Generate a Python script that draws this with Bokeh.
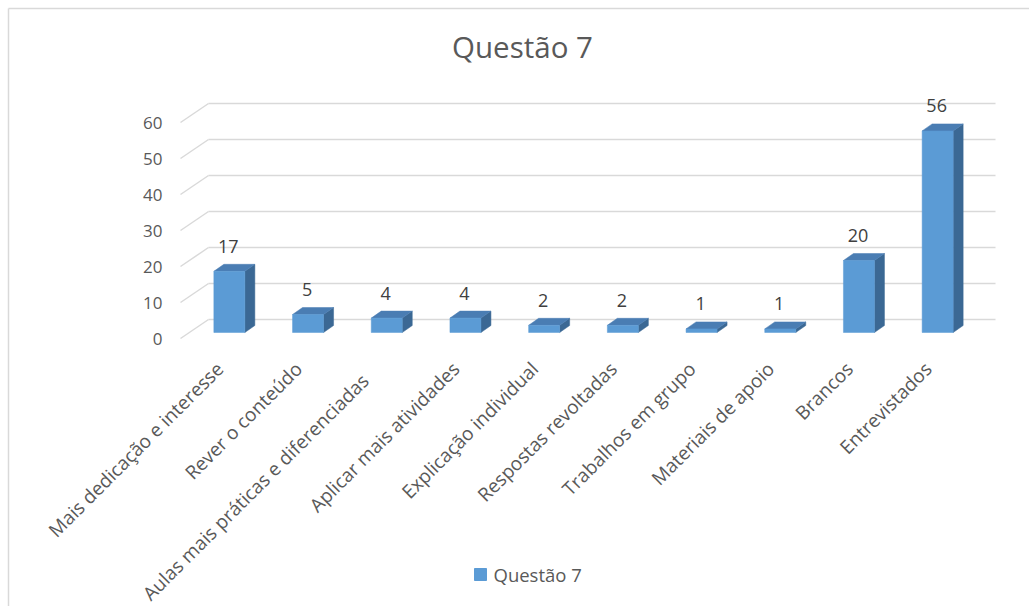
import math
from bokeh.plotting import figure
from bokeh.models import Range1d
from bokeh.embed import file_html
from bokeh.resources import INLINE
from bokeh.core.properties import value

# ---------------- data ----------------
chart_title = "Questão 7"
series_name = "Questão 7"
categories = [
    "Mais dedicação e interesse",
    "Rever o conteúdo",
    "Aulas mais práticas e diferenciadas",
    "Aplicar mais atividades",
    "Explicação individual",
    "Respostas revoltadas",
    "Trabalhos em grupo",
    "Materiais de apoio",
    "Brancos",
    "Entrevistados",
]
values = [17, 5, 4, 4, 2, 2, 1, 1, 20, 56]
y_ticks = [0, 10, 20, 30, 40, 50, 60]
y_tick_labels = ["0", "10", "20", "30", "40", "50", "60"]

# ---------------- layout (pixels) ----------------
W, H = 1029, 606
X0 = 180.0        # floor front-left corner, px
CAT_PX = 78.7     # px per category
Y0 = 338.0        # value 0 on the front plane, px
VAL_PX = 3.6      # px per value unit
FONT = "Open Sans"

def ux(px):
    return (px - X0) / CAT_PX

def vy(py):
    return (Y0 - py) / VAL_PX

def ddx(px):
    return px / CAT_PX

def ddy(px_up):
    return px_up / VAL_PX

WALL_DX, WALL_DY = ddx(28), ddy(19)      # depth of the back wall
BAR_DX, BAR_DY = ddx(9.5), ddy(6)        # bar front face offset into depth
SIDE_DX, SIDE_DY = ddx(10), ddy(7)       # bar depth
BAR_W = 31 / CAT_PX

FRONT = "#5B9BD5"
SIDE = "#3B6894"
TOP = "#4A7DB3"
GRID = "#D9D9D9"
TXT = "#595959"
VTXT = "#404040"

p = figure(width=W, height=H, x_range=Range1d(ux(0), ux(W)), y_range=Range1d(vy(H), vy(0)),
           output_backend="svg", toolbar_location=None, min_border=0,
           x_axis_location=None, y_axis_location=None, outline_line_color=None)
p.xgrid.visible = False
p.ygrid.visible = False
p.background_fill_color = "white"
p.border_fill_color = "white"

# chart-area border (left and top visible)
p.segment(x0=[ux(8), ux(8)], y0=[vy(8), vy(8)], x1=[ux(W + 5), ux(8)], y1=[vy(8), vy(H + 5)],
          line_color="#D9D9D9", line_width=1.5)

n = len(categories)
# gridlines: oblique side + back wall
gx0, gy0, gx1, gy1 = [], [], [], []
for t in y_ticks:
    gx0 += [0, WALL_DX]
    gy0 += [t, t + WALL_DY]
    gx1 += [WALL_DX, n + WALL_DX]
    gy1 += [t + WALL_DY, t + WALL_DY]
p.segment(x0=gx0, y0=gy0, x1=gx1, y1=gy1, line_color=GRID, line_width=1.5)

# y tick labels on front plane
p.text(x=[-ddx(18)] * len(y_ticks), y=y_ticks, text=y_tick_labels,
       text_font=value(FONT), text_font_size="17px", text_color=TXT,
       text_align="right", text_baseline="middle")

# 3D bars
fl, fr, fb, ft = [], [], [], []
side_xs, side_ys, top_xs, top_ys = [], [], [], []
for i, v in enumerate(values):
    left = i + 0.5 + BAR_DX - BAR_W / 2
    right = left + BAR_W
    b = BAR_DY
    t = v + BAR_DY
    fl.append(left); fr.append(right); fb.append(b); ft.append(t)
    side_xs.append([right, right + SIDE_DX, right + SIDE_DX, right])
    side_ys.append([b, b + SIDE_DY, t + SIDE_DY, t])
    top_xs.append([left, right, right + SIDE_DX, left + SIDE_DX])
    top_ys.append([t, t, t + SIDE_DY, t + SIDE_DY])
p.patches(xs=side_xs, ys=side_ys, fill_color=SIDE, line_color=SIDE, line_width=0.5)
p.patches(xs=top_xs, ys=top_ys, fill_color=TOP, line_color=TOP, line_width=0.5)
p.quad(left=fl, right=fr, bottom=fb, top=ft, fill_color=FRONT, line_color=FRONT, line_width=0.5)

# value labels
p.text(x=[i + 0.5 + BAR_DX - ddx(1) for i in range(n)],
       y=[v + BAR_DY + ddy(25) for v in values],
       text=[str(v) for v in values],
       text_font=value(FONT), text_font_size="18px", text_color=VTXT,
       text_align="center", text_baseline="middle")

# category labels rotated 45 degrees
NUDGE = {2: 17}
lx, ly = [], []
for i in range(n):
    s = NUDGE.get(i, 0) / math.sqrt(2)
    lx.append(i + 0.5 - ddx(s))
    ly.append(-ddy(27) - ddy(s))
p.text(x=lx, y=ly, text=categories, angle=math.pi / 4,
       text_font=value(FONT), text_font_size="19px", text_color=TXT,
       text_align="right", text_baseline="middle")

# title
p.text(x=[ux(522)], y=[vy(46)], text=[chart_title], text_font=value(FONT),
       text_font_size="29.5px", text_color=TXT, text_align="center", text_baseline="middle")

# legend
p.scatter(x=[ux(480)], y=[vy(574)], marker="square", size=12, fill_color=FRONT, line_color=FRONT)
p.text(x=[ux(493)], y=[vy(574)], text=[series_name], text_font=value(FONT),
       text_font_size="18.5px", text_color=TXT, text_align="left", text_baseline="middle")

open("out.html", "w").write(file_html(p, INLINE))
